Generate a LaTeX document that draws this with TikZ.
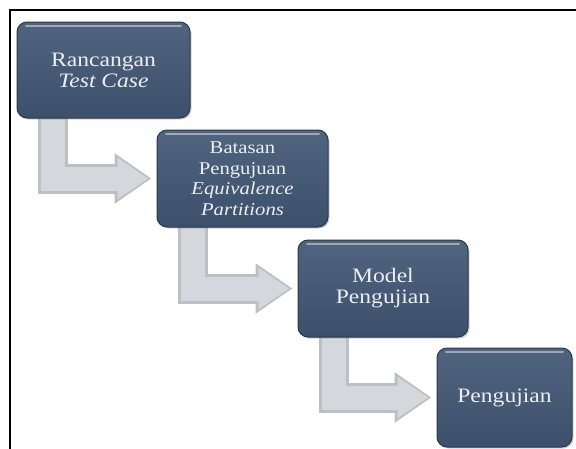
\documentclass[tikz,border=0pt]{standalone}
\usepackage{fontspec}
\setmainfont{Liberation Serif}
\newfontfamily\boxfont[FakeStretch=1.15]{Liberation Serif}
\usetikzlibrary{arrows.meta,shadows,backgrounds}
\definecolor{boxfill}{HTML}{3C506C}
\definecolor{boxtop}{HTML}{50647F}
\definecolor{boxedge}{HTML}{2A384C}
\definecolor{boxtext}{HTML}{ECEEF1}
\definecolor{arrowdark}{HTML}{BCC0C6}
\definecolor{arrowlight}{HTML}{D4D7DB}
\tikzset{
  stepbox/.style={rounded corners=10pt, draw=boxedge, line width=1pt,
    top color=boxtop, bottom color=boxfill, text=boxtext, align=center,
    inner sep=2pt,
    drop shadow={opacity=0.35, shadow xshift=1.5pt, shadow yshift=-1.5pt},
    font=\boxfont\fontsize{20.5}{21}\selectfont,
    path picture={\draw[white, opacity=0.45, line width=2pt, line cap=round]
      ([xshift=9pt,yshift=-4pt]path picture bounding box.north west) --
      ([xshift=-9pt,yshift=-4pt]path picture bounding box.north east);}},
  smalltext/.style={font=\boxfont\fontsize{18}{20.5}\selectfont},
  elbowout/.style={draw=arrowdark, line width=30pt,
    -{Triangle[width=48pt,length=37pt]}},
  elbowin/.style={draw=arrowlight, line width=24pt,
    -{Triangle[width=39pt,length=31pt]}},
  frameline/.style={draw=black, line width=2pt}
}
\begin{document}
\begin{tikzpicture}[x=1pt,y=-1pt]
\useasboundingbox (0,0) rectangle (576,448);
\draw[frameline] (10,449) -- (10,10) -- (577,10);

\node[stepbox, minimum width=173pt, minimum height=96pt] (b1) at (103.5,70)
  {Rancangan\\\textit{Test Case}};
\node[stepbox, smalltext, minimum width=171pt, minimum height=97pt] (b2) at (242.5,178.5)
  {Batasan\\Pengujuan\\\textit{Equivalence}\\\textit{Partitions}};
\node[stepbox, minimum width=170pt, minimum height=97pt] (b3) at (383,288.5)
  {Model\\Pengujian};
\node[stepbox, minimum width=135pt, minimum height=99pt] (b4) at (504.5,397.5)
  {Pengujian};

\begin{scope}[on background layer]
  \draw[elbowout] ([xshift=36pt,yshift=6pt]b1.south west) |- ([xshift=-5pt]b2.west);
  \draw[elbowin]  ([xshift=36pt,yshift=6pt]b1.south west) |- ([xshift=-8pt]b2.west);
  \draw[elbowout] ([xshift=36pt,yshift=6pt]b2.south west) |- ([xshift=-5pt]b3.west);
  \draw[elbowin]  ([xshift=36pt,yshift=6pt]b2.south west) |- ([xshift=-8pt]b3.west);
  \draw[elbowout] ([xshift=36pt,yshift=6pt]b3.south west) |- ([xshift=-5pt]b4.west);
  \draw[elbowin]  ([xshift=36pt,yshift=6pt]b3.south west) |- ([xshift=-8pt]b4.west);
\end{scope}
\end{tikzpicture}
\end{document}
